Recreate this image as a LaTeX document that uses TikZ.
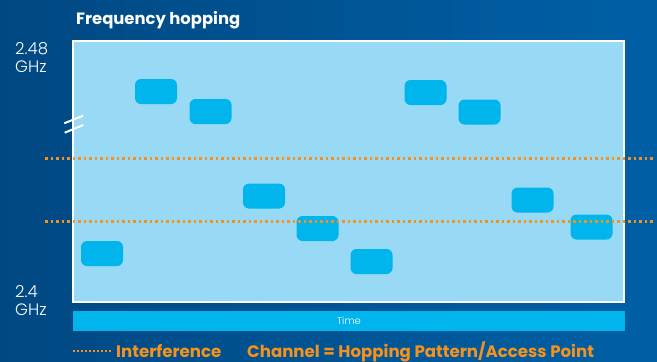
\documentclass[tikz,border=0pt]{standalone}
\usepackage{fontspec}
\setmainfont{Poppins}
\newfontfamily\lightfont{Poppins Light}
\definecolor{bgA}{HTML}{004882}
\definecolor{bgB}{HTML}{0060A6}
\definecolor{panel}{HTML}{98DAF6}
\definecolor{chan}{HTML}{00B5EB}
\definecolor{orng}{HTML}{F5921E}
\tikzset{
  hop/.style={fill=chan, rounded corners=6pt, minimum width=42pt, minimum height=25pt, inner sep=0pt, draw=none},
  interf/.style={orng, line width=3pt, dash pattern=on 2.7pt off 2.8pt},
  axislbl/.style={text=white, font=\lightfont\fontsize{16.5}{18}\selectfont, anchor=north west, inner sep=0pt, align=left},
  legend/.style={text=orng, font=\bfseries\fontsize{16.6}{20}\selectfont, anchor=base west, inner sep=0pt}
}
\begin{document}
\begin{tikzpicture}[x=1pt,y=-1pt]
\useasboundingbox (0,0) rectangle (657,362);
\shade[left color=bgA, right color=bgB] (0,0) rectangle (657,362);
% title
\node[text=white, font=\bfseries\fontsize{16.4}{20}\selectfont, anchor=base west, inner sep=0pt] (title) at (76,24) {Frequency hopping};
% panel
\draw[white, line width=1.5pt, fill=panel] (73,41) rectangle (624,302);
% axis labels
\node[axislbl] (top) at (15,42.5) {2.48\\GHz};
\node[axislbl] (bot) at (15,285.5) {2.4\\GHz};
% break mark
\draw[white, line width=2pt] (64.3,123.3) -- (83.3,115.7);
\draw[white, line width=2pt] (64.7,132.7) -- (83.3,125);
% hops
\node[hop] (h1) at (156,91.5) {};
\node[hop] (h2) at (210.5,111.5) {};
\node[hop] (h3) at (264,196) {};
\node[hop] (h4) at (317.5,228.5) {};
\node[hop] (h5) at (371.5,261.5) {};
\node[hop] (h6) at (425.5,92.5) {};
\node[hop] (h7) at (479.5,112) {};
\node[hop] (h8) at (532.5,200) {};
\node[hop] (h9) at (591.5,227) {};
\node[hop] (h10) at (102,253.5) {};
% interference lines
\coordinate (i1a) at (45,158); \coordinate (i1b) at (655,158);
\coordinate (i2a) at (45,221.3); \coordinate (i2b) at (655,221.3);
\draw[interf] (i1a) -- (i1b);
\draw[interf] (i2a) -- (i2b);
% time bar
\node[fill=chan, minimum width=552pt, minimum height=20pt, inner sep=0pt, text=white, font=\lightfont\fontsize{10}{11}\selectfont] (time) at (349,321) {Time};
% legend
\coordinate (la) at (73,351); \coordinate (lb) at (111,351);
\draw[orng, line width=2pt, dash pattern=on 2pt off 2pt] (la) -- (lb);
\node[legend] (l1) at (116,357) {Interference};
\node[legend] (l2) at (247,357) {Channel = Hopping Pattern/Access Point};
\end{tikzpicture}
\end{document}
